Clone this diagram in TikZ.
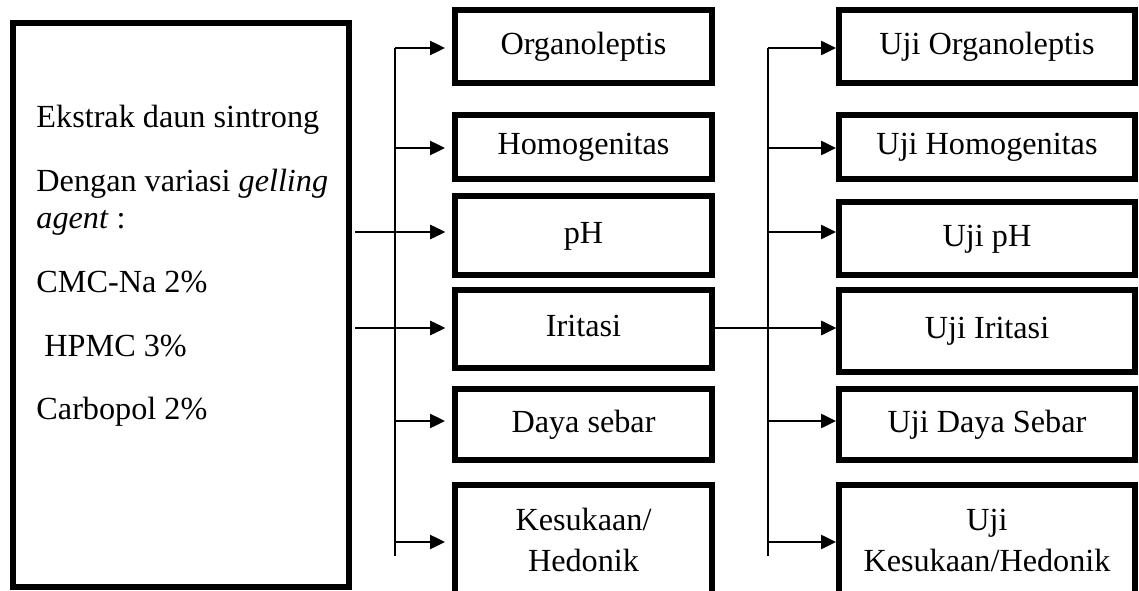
\documentclass[tikz,border=0pt]{standalone}
\usepackage{fontspec}
\setmainfont{Liberation Serif}
\usetikzlibrary{positioning,arrows.meta}

\begin{document}
\begin{tikzpicture}[x=0.015cm, y=-0.015cm,
    every node/.style={font=\fontsize{13.75}{17.5}\selectfont},
    box/.style={rectangle, draw, line width=2.5pt, inner sep=0pt, align=center},
    sbox/.style={box, text height=9.7pt, text depth=3pt},
    txt/.style={anchor=base west, inner sep=0pt},
    ptr/.style={-{Triangle[length=6.4pt,width=6pt]}, line width=0.9pt},
    bus/.style={line width=0.6pt}
]
    \useasboundingbox (0,0) rectangle (1139,591);
    \clip (0,0) rectangle (1139,591);

    % bahan
    \node[box, minimum width=5.04cm, minimum height=8.46cm] (bahan) at (181,305) {};
    \node[txt] (ekstrak) at (36,128) {Ekstrak daun sintrong};
    \node[txt] (variasi) at (36,192) {Dengan variasi \textit{gelling}};
    \node[txt] (agent) at (36,229) {\textit{agent} :};
    \node[txt] (cmc) at (36,292) {CMC-Na 2\%};
    \node[txt] (hpmc) at (44,356) {HPMC 3\%};
    \node[txt] (carbo) at (36,419) {Carbopol 2\%};

    % parameter
    \node[sbox, minimum width=3.855cm, minimum height=1.095cm] (org) at (583.5,46.5) {Organoleptis};
    \node[sbox, minimum width=3.855cm, minimum height=0.96cm] (hom) at (583.5,147) {Homogenitas};
    \node[sbox, minimum width=3.855cm, minimum height=1.185cm] (ph) at (583.5,235.5) {pH};
    \node[sbox, minimum width=3.855cm, minimum height=1.17cm] (iri) at (583.5,329) {Iritasi};
    \node[sbox, minimum width=3.855cm, minimum height=1.065cm] (daya) at (583.5,424.5) {Daya sebar};
    \node[box, minimum width=3.855cm, minimum height=1.65cm] (kes) at (583.5,540) {Kesukaan/\\Hedonik};

    % uji
    \node[sbox, minimum width=4.44cm, minimum height=1.095cm] (uorg) at (987,46.5) {Uji Organoleptis};
    \node[sbox, minimum width=4.44cm, minimum height=0.96cm] (uhom) at (987,147) {Uji Homogenitas};
    \node[sbox, minimum width=4.44cm, minimum height=1.095cm] (uph) at (987,238.5) {Uji pH};
    \node[sbox, minimum width=4.44cm, minimum height=1.23cm] (uiri) at (987,331) {Uji Iritasi};
    \node[sbox, minimum width=4.44cm, minimum height=1.065cm] (udaya) at (987,424.5) {Uji Daya Sebar};
    \node[box, minimum width=4.44cm, minimum height=1.65cm] (ukes) at (987,540) {Uji\\Kesukaan/Hedonik};

    % cabang kiri
    \coordinate (mtop) at (395,48);
    \coordinate (mbot) at (395,556);
    \draw[bus] (mtop) -- (mbot);
    \foreach \y/\n in {48/org,148/hom,232/ph,328/iri,421/daya,542/kes} {
        \coordinate (m\n) at (395,\y);
        \draw[ptr, shorten >=3pt] (m\n) -- (m\n -| \n.west);
    }
    \draw[ptr, shorten <=1.5pt, shorten >=3pt] (bahan.east |- mph) -- (mph -| ph.west);
    \draw[ptr, shorten <=1.5pt, shorten >=3pt] (bahan.east |- miri) -- (miri -| iri.west);

    % cabang kanan
    \coordinate (utop) at (768,48);
    \coordinate (ubot) at (768,556);
    \draw[bus] (utop) -- (ubot);
    \foreach \y/\n in {48/uorg,148/uhom,232/uph,328/uiri,421/udaya,542/ukes} {
        \coordinate (m\n) at (768,\y);
        \draw[ptr] (m\n) -- (m\n -| \n.west);
    }
    \draw[ptr] (iri.east |- muiri) -- (muiri -| uiri.west);
\end{tikzpicture}
\end{document}
